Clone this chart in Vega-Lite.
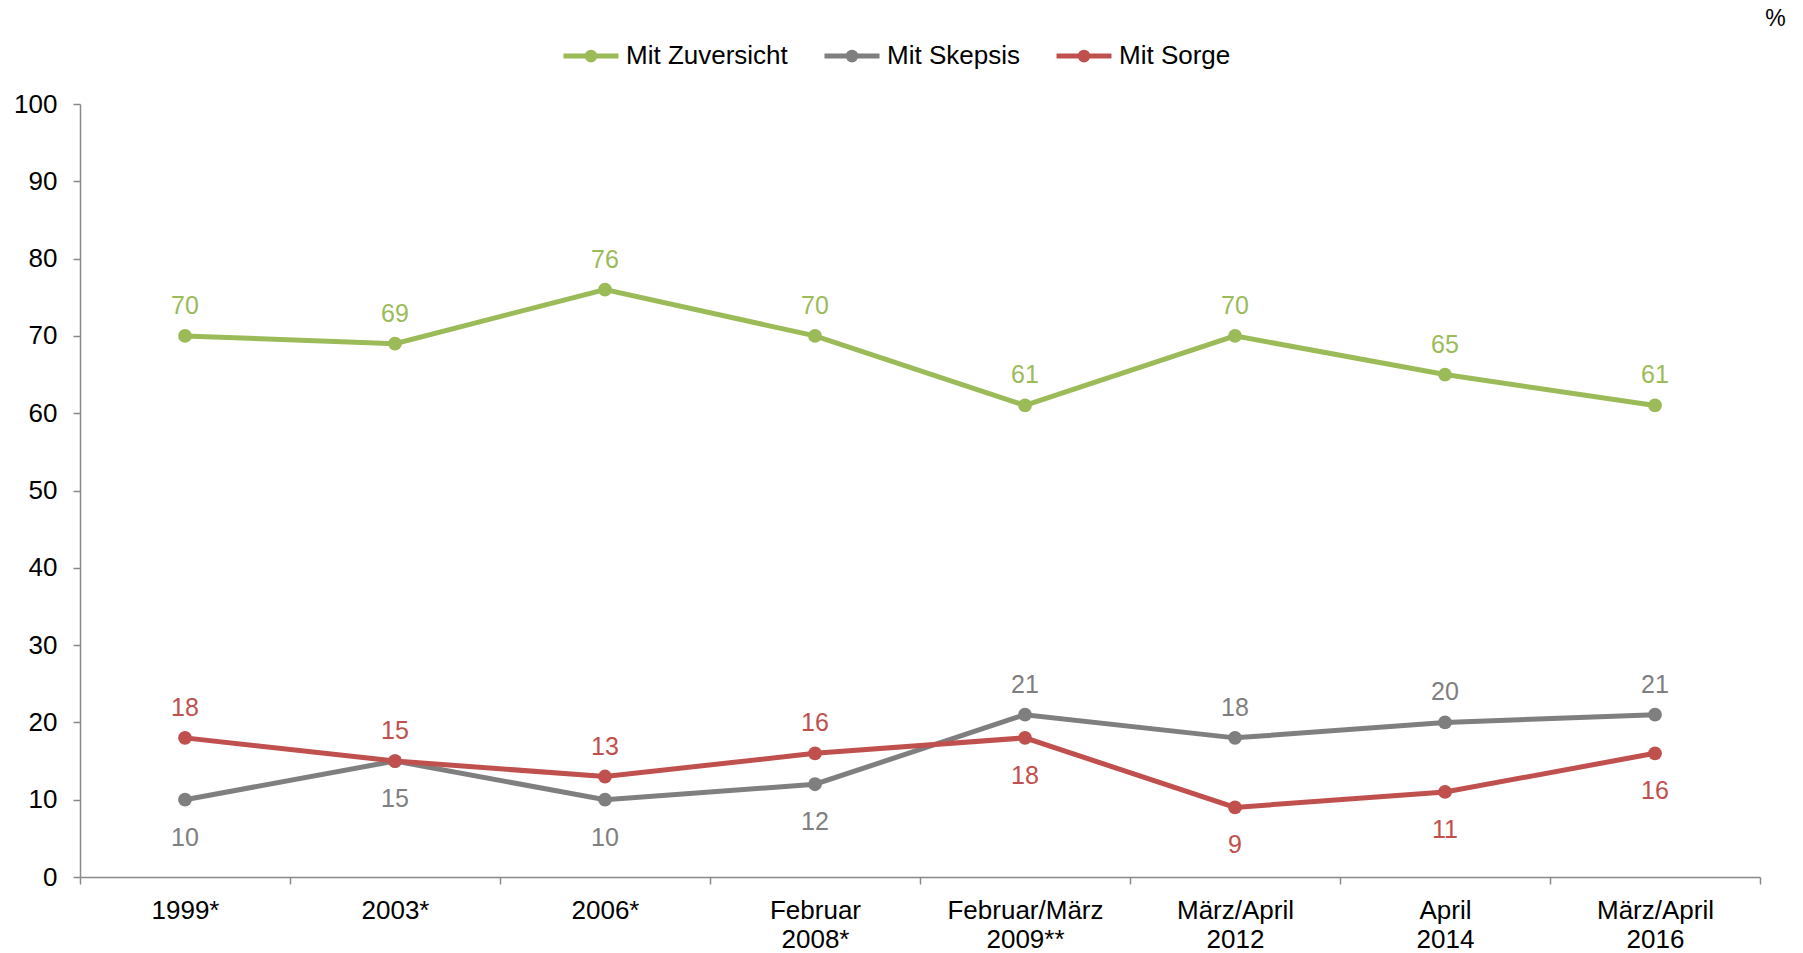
{
  "$schema": "https://vega.github.io/schema/vega-lite/v6.json",
  "width": 1680,
  "height": 773,
  "autosize": {"type": "none"},
  "padding": {"left": 80, "top": 104, "right": 43, "bottom": 76},
  "background": "white",
  "config": {
    "view": {"stroke": null},
    "font": "Liberation Sans",
    "axis": {"labelFont": "Liberation Sans", "titleFont": "Liberation Sans"},
    "legend": {"labelFont": "Liberation Sans"}
  },
  "data": {
    "values": [
      {"Zeitpunkt": "1999*", "Reihe": "Mit Zuversicht", "Wert": 70},
      {"Zeitpunkt": "2003*", "Reihe": "Mit Zuversicht", "Wert": 69},
      {"Zeitpunkt": "2006*", "Reihe": "Mit Zuversicht", "Wert": 76},
      {"Zeitpunkt": "Februar 2008*", "Reihe": "Mit Zuversicht", "Wert": 70},
      {"Zeitpunkt": "Februar/März 2009**", "Reihe": "Mit Zuversicht", "Wert": 61},
      {"Zeitpunkt": "März/April 2012", "Reihe": "Mit Zuversicht", "Wert": 70},
      {"Zeitpunkt": "April 2014", "Reihe": "Mit Zuversicht", "Wert": 65},
      {"Zeitpunkt": "März/April 2016", "Reihe": "Mit Zuversicht", "Wert": 61},
      {"Zeitpunkt": "1999*", "Reihe": "Mit Skepsis", "Wert": 10},
      {"Zeitpunkt": "2003*", "Reihe": "Mit Skepsis", "Wert": 15},
      {"Zeitpunkt": "2006*", "Reihe": "Mit Skepsis", "Wert": 10},
      {"Zeitpunkt": "Februar 2008*", "Reihe": "Mit Skepsis", "Wert": 12},
      {"Zeitpunkt": "Februar/März 2009**", "Reihe": "Mit Skepsis", "Wert": 21},
      {"Zeitpunkt": "März/April 2012", "Reihe": "Mit Skepsis", "Wert": 18},
      {"Zeitpunkt": "April 2014", "Reihe": "Mit Skepsis", "Wert": 20},
      {"Zeitpunkt": "März/April 2016", "Reihe": "Mit Skepsis", "Wert": 21},
      {"Zeitpunkt": "1999*", "Reihe": "Mit Sorge", "Wert": 18},
      {"Zeitpunkt": "2003*", "Reihe": "Mit Sorge", "Wert": 15},
      {"Zeitpunkt": "2006*", "Reihe": "Mit Sorge", "Wert": 13},
      {"Zeitpunkt": "Februar 2008*", "Reihe": "Mit Sorge", "Wert": 16},
      {"Zeitpunkt": "Februar/März 2009**", "Reihe": "Mit Sorge", "Wert": 18},
      {"Zeitpunkt": "März/April 2012", "Reihe": "Mit Sorge", "Wert": 9},
      {"Zeitpunkt": "April 2014", "Reihe": "Mit Sorge", "Wert": 11},
      {"Zeitpunkt": "März/April 2016", "Reihe": "Mit Sorge", "Wert": 16}
    ]
  },
  "encoding": {
    "x": {
      "field": "Zeitpunkt",
      "type": "nominal",
      "sort": null,
      "scale": {"paddingInner": 0, "paddingOuter": 0},
      "axis": {
        "title": null,
        "labelAngle": 0,
        "labelExpr": "split(datum.label, ' ')",
        "labelFontSize": 26,
        "labelColor": "#000000",
        "labelLineHeight": 29,
        "labelPadding": 13,
        "labelBaseline": "top",
        "tickBand": "extent",
        "tickSize": 7,
        "tickColor": "#898989",
        "tickWidth": 1.5,
        "domainColor": "#898989",
        "domainWidth": 1.5,
        "grid": false
      }
    },
    "y": {
      "field": "Wert",
      "type": "quantitative",
      "scale": {"domain": [0, 100], "nice": false},
      "axis": {
        "values": [0, 10, 20, 30, 40, 50, 60, 70, 80, 90, 100],
        "title": "%",
        "titleAngle": 0,
        "titleX": 1695,
        "titleY": -86,
        "titleAlign": "center",
        "titleBaseline": "middle",
        "titleFontSize": 23,
        "titleFontWeight": "normal",
        "titleColor": "#000000",
        "labelFontSize": 26,
        "labelColor": "#000000",
        "labelPadding": 16,
        "tickSize": 7,
        "tickColor": "#898989",
        "tickWidth": 1.5,
        "domainColor": "#898989",
        "domainWidth": 1.5,
        "grid": false
      }
    }
  },
  "layer": [
    {
      "mark": {"type": "line", "strokeWidth": 5, "point": {"filled": true, "size": 190, "opacity": 1}},
      "encoding": {
        "color": {
          "field": "Reihe",
          "type": "nominal",
          "scale": {
            "domain": ["Mit Zuversicht", "Mit Skepsis", "Mit Sorge"],
            "range": ["#9BBB59", "#7F7F7F", "#C0504D"]
          },
          "legend": {
            "title": null,
            "orient": "none",
            "direction": "horizontal",
            "legendX": 481,
            "legendY": -78,
            "padding": 0,
            "symbolType": "M-1,0L1,0M0.14,0A0.14,0.14,0,1,1,-0.14,0A0.14,0.14,0,1,1,0.14,0Z",
            "symbolSize": 3025,
            "symbolStrokeWidth": 5,
            "labelFontSize": 26,
            "labelColor": "#000000",
            "labelLimit": 0,
            "labelOffset": 5,
            "columnPadding": 26,
            "encode": {
              "symbols": {
                "update": {
                  "fill": {"scale": "color", "field": "value"},
                  "stroke": {"scale": "color", "field": "value"},
                  "fillOpacity": {"value": 1},
                  "strokeOpacity": {"value": 1}
                }
              }
            }
          }
        }
      }
    },
    {
      "transform": [{"filter": "datum.Reihe == 'Mit Zuversicht'"}],
      "mark": {"type": "text", "fontSize": 25, "baseline": "alphabetic", "dy": -22},
      "encoding": {
        "text": {"field": "Wert", "type": "quantitative"},
        "color": {"field": "Reihe", "type": "nominal", "legend": null}
      }
    },
    {
      "transform": [
        {"filter": "datum.Reihe != 'Mit Zuversicht'"},
        {"joinaggregate": [{"op": "max", "field": "Wert", "as": "maxLow"}, {"op": "min", "field": "Wert", "as": "minLow"}], "groupby": ["Zeitpunkt"]}
      ],
      "layer": [
        {
          "transform": [{"filter": "!(datum.Wert < datum.maxLow || (datum.minLow == datum.maxLow && datum.Reihe == 'Mit Skepsis'))"}],
          "mark": {"type": "text", "fontSize": 25, "baseline": "alphabetic", "dy": -22},
          "encoding": {
            "text": {"field": "Wert", "type": "quantitative"},
            "color": {"field": "Reihe", "type": "nominal", "legend": null}
          }
        },
        {
          "transform": [{"filter": "datum.Wert < datum.maxLow || (datum.minLow == datum.maxLow && datum.Reihe == 'Mit Skepsis')"}],
          "mark": {"type": "text", "fontSize": 25, "baseline": "alphabetic", "dy": 46},
          "encoding": {
            "text": {"field": "Wert", "type": "quantitative"},
            "color": {"field": "Reihe", "type": "nominal", "legend": null}
          }
        }
      ]
    }
  ]
}
